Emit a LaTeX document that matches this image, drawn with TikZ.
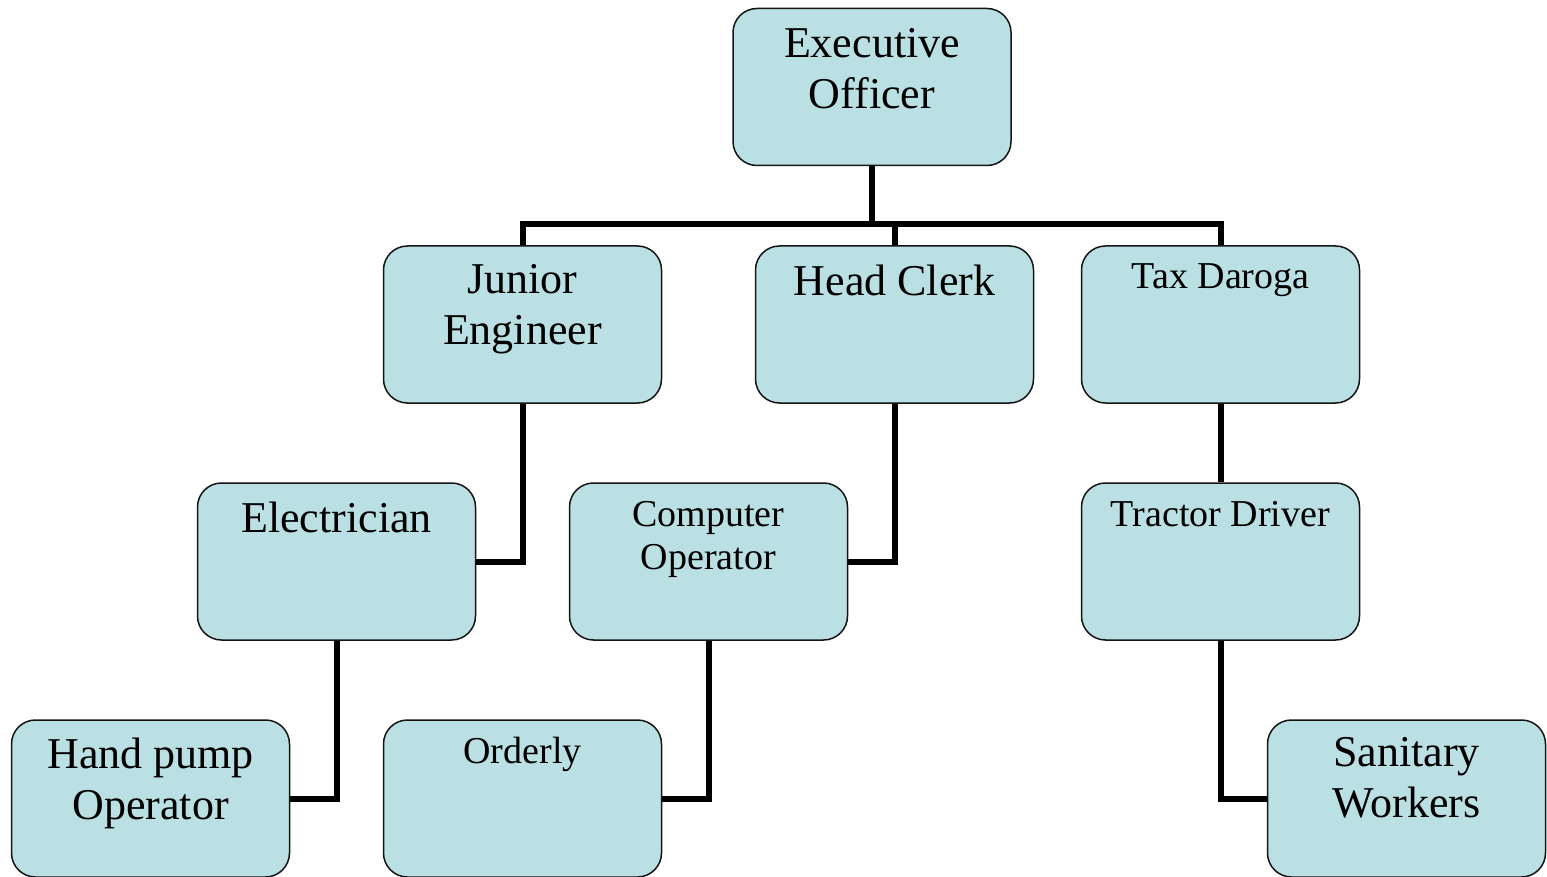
\documentclass[tikz,border=0pt]{standalone}
\usepackage{fontspec}
\setmainfont{Liberation Serif}
\usetikzlibrary{backgrounds}
\definecolor{boxfill}{RGB}{186,224,227}
\definecolor{boxline}{RGB}{20,20,20}
\tikzset{
  post/.style={draw=boxline, line width=1.5pt, fill=boxfill, rounded corners=24pt,
    minimum width=278pt, minimum height=157pt, inner sep=0pt},
  big/.style={align=center, inner sep=0pt, anchor=base, font=\fontsize{44}{51}\selectfont},
  small/.style={align=center, inner sep=0pt, anchor=base, font=\fontsize{38}{43}\selectfont},
  link/.style={line width=6pt, draw=black}
}
\begin{document}
\begin{tikzpicture}[x=1pt, y=-1pt]
\useasboundingbox (0,0) rectangle (1547,877);
% boxes
\node[post] (eo) at (872,87) {};
\node[post] (je) at (522.5,324.5) {};
\node[post] (hc) at (894.5,324.5) {};
\node[post] (td) at (1220.5,324.5) {};
\node[post] (el) at (336.5,561.5) {};
\node[post] (co) at (708.5,561.5) {};
\node[post] (tr) at (1220.5,561.5) {};
\node[post] (hp) at (150.5,798.5) {};
\node[post] (or) at (522.5,798.5) {};
\node[post] (sw) at (1406.5,798.5) {};
% labels (the base anchor sits on the last line)
\node[big] (eot) at ([yshift=-101pt]eo.north) {Executive\\Officer};
\node[big] (jet) at ([yshift=-99pt]je.north) {Junior\\Engineer};
\node[big] (hct) at ([yshift=-50pt]hc.north) {Head Clerk};
\node[small] (tdt) at ([yshift=-43pt]td.north) {Tax Daroga};
\node[big] (elt) at ([yshift=-50pt]el.north) {Electrician};
\node[small] (cot) at ([yshift=-87pt]co.north) {Computer\\Operator};
\node[small] (trt) at ([yshift=-44pt]tr.north) {Tractor Driver};
\node[big] (hpt) at ([yshift=-100pt]hp.north) {Hand pump\\Operator};
\node[small] (ort) at ([yshift=-44pt]or.north) {Orderly};
\node[big] (swt) at ([yshift=-98pt]sw.north) {Sanitary\\Workers};
% connectors
\coordinate (bus) at (872,224);
\begin{scope}[on background layer]
\draw[link] (eo.south) -- (bus);
\draw[link] (je.north) |- (bus) -| (td.north);
\draw[link] (bus -| hc.north) -- (hc.north);
\draw[link] (je.south) |- (el.east);
\draw[link] (hc.south) |- (co.east);
\draw[link] (td.south) -- (tr.north);
\draw[link] (el.south) |- (hp.east);
\draw[link] (co.south) |- (or.east);
\draw[link] (tr.south) |- (sw.west);
\end{scope}
\end{tikzpicture}
\end{document}
